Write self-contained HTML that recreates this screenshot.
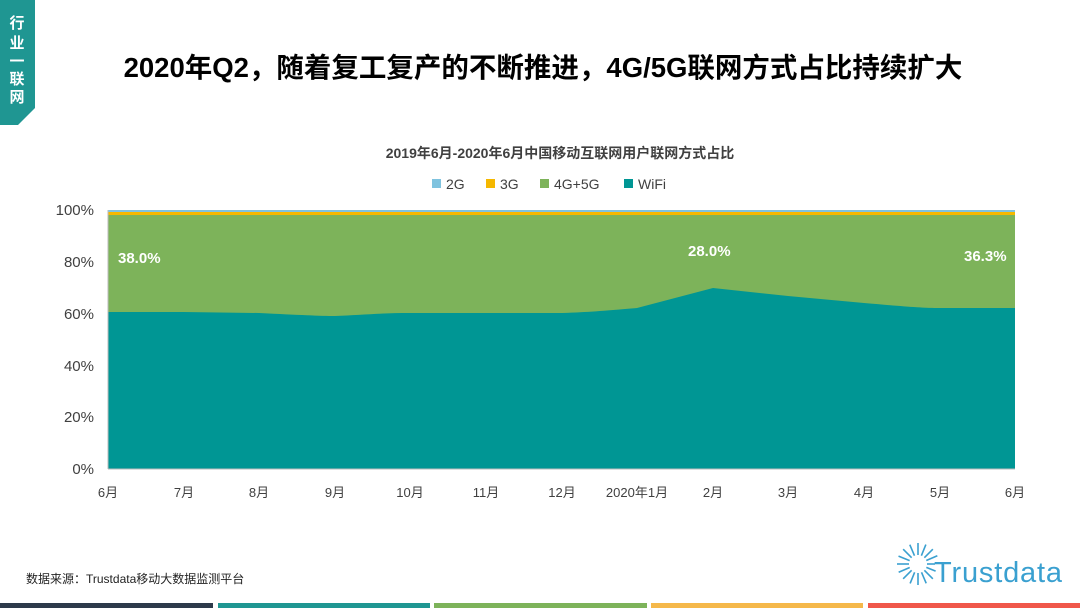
<!DOCTYPE html>
<html><head><meta charset="utf-8"><style>
body{margin:0;width:1080px;height:608px;background:#fff;overflow:hidden;position:relative;font-family:"Liberation Sans","Noto Sans CJK SC",sans-serif}
</style></head><body>
<svg width="1080" height="608" style="position:absolute;left:0;top:0">
<polygon points="0,0 35,0 35,108 18,125 0,125" fill="#1f9692"/>
<text x="17" y="28" fill="#fff" font-size="15" font-weight="bold" text-anchor="middle" font-family="Noto Sans CJK SC">行</text>
<text x="17" y="48" fill="#fff" font-size="15" font-weight="bold" text-anchor="middle" font-family="Noto Sans CJK SC">业</text>
<text x="17" y="66" fill="#fff" font-size="15" font-weight="bold" text-anchor="middle" font-family="Noto Sans CJK SC">一</text>
<text x="17" y="84" fill="#fff" font-size="15" font-weight="bold" text-anchor="middle" font-family="Noto Sans CJK SC">联</text>
<text x="17" y="102" fill="#fff" font-size="15" font-weight="bold" text-anchor="middle" font-family="Noto Sans CJK SC">网</text>
<text x="543" y="77" font-size="27.5" font-weight="bold" text-anchor="middle" font-family="Liberation Sans,Noto Sans CJK SC,sans-serif">2020年Q2，随着复工复产的不断推进，4G/5G联网方式占比持续扩大</text>
<text x="560" y="158" font-size="14" font-weight="bold" fill="#404040" text-anchor="middle" font-family="Liberation Sans,Noto Sans CJK SC,sans-serif">2019年6月-2020年6月中国移动互联网用户联网方式占比</text>
<g font-size="14" fill="#404040" font-family="Liberation Sans,sans-serif">
<rect x="432" y="179" width="9" height="9" fill="#7fc3df"/><text x="446" y="189">2G</text>
<rect x="486" y="179" width="9" height="9" fill="#f5b800"/><text x="500" y="189">3G</text>
<rect x="540" y="179" width="9" height="9" fill="#7db35a"/><text x="554" y="189">4G+5G</text>
<rect x="624" y="179" width="9" height="9" fill="#009694"/><text x="638" y="189">WiFi</text>
</g>
<rect x="108" y="210" width="907" height="259" fill="#7fc3df"/>
<rect x="108" y="212" width="907" height="257" fill="#f5b800"/>
<rect x="108" y="215" width="907" height="254" fill="#7db35a"/>
<path d="M108,312 L183.6,312 L259,313 C300,315 320,316 335,316 C360,315 380,313 410,313 L486,313 L562,313 C590,312 600,311 637,308 L713,288 L788,296 L864,303 C900,306 920,308 940,308 L1015,308 L1015,469 L108,469Z" fill="#009694"/>
<line x1="108" y1="210" x2="108" y2="469" stroke="#bbb"/>
<line x1="108" y1="469" x2="1015" y2="469" stroke="#bbb"/>
<g font-size="15" fill="#404040" text-anchor="end" font-family="Liberation Sans,sans-serif">
<text x="94" y="215">100%</text><text x="94" y="267">80%</text><text x="94" y="319">60%</text><text x="94" y="371">40%</text><text x="94" y="422">20%</text><text x="94" y="474">0%</text>
</g>
<g font-size="13" fill="#404040" text-anchor="middle" font-family="Liberation Sans,Noto Sans CJK SC,sans-serif">
<text x="108" y="497">6月</text><text x="184" y="497">7月</text><text x="259" y="497">8月</text><text x="335" y="497">9月</text><text x="410" y="497">10月</text><text x="486" y="497">11月</text><text x="562" y="497">12月</text><text x="637" y="497">2020年1月</text><text x="713" y="497">2月</text><text x="788" y="497">3月</text><text x="864" y="497">4月</text><text x="940" y="497">5月</text><text x="1015" y="497">6月</text>
</g>
<g font-size="15" font-weight="bold" fill="#fff" font-family="Liberation Sans,sans-serif">
<text x="118" y="263">38.0%</text><text x="688" y="256">28.0%</text><text x="964" y="261">36.3%</text>
</g>
<text x="26" y="583" font-size="12" fill="#222" font-family="Liberation Sans,Noto Sans CJK SC,sans-serif">数据来源：Trustdata移动大数据监测平台</text>
<g stroke="#3aa0d0" stroke-width="1.6" transform="translate(918,564)">
<line x1="0" y1="-9" x2="0" y2="-21"/><line x1="0" y1="-9" x2="0" y2="-21" transform="rotate(22)"/><line x1="0" y1="-9" x2="0" y2="-21" transform="rotate(45)"/><line x1="0" y1="-9" x2="0" y2="-21" transform="rotate(67)"/><line x1="0" y1="-9" x2="0" y2="-19" transform="rotate(112)"/><line x1="0" y1="-9" x2="0" y2="-21" transform="rotate(135)"/><line x1="0" y1="-9" x2="0" y2="-21" transform="rotate(157)"/><line x1="0" y1="-9" x2="0" y2="-21" transform="rotate(180)"/><line x1="0" y1="-9" x2="0" y2="-21" transform="rotate(202)"/><line x1="0" y1="-9" x2="0" y2="-21" transform="rotate(225)"/><line x1="0" y1="-9" x2="0" y2="-21" transform="rotate(247)"/><line x1="0" y1="-9" x2="0" y2="-21" transform="rotate(270)"/><line x1="0" y1="-9" x2="0" y2="-21" transform="rotate(292)"/><line x1="0" y1="-9" x2="0" y2="-21" transform="rotate(315)"/><line x1="0" y1="-9" x2="0" y2="-21" transform="rotate(337)"/><line x1="0" y1="-9" x2="0" y2="-17" transform="rotate(90)"/>
</g>
<text x="934" y="582" font-size="29" fill="#3aa0d0" textLength="128" font-family="Liberation Sans,sans-serif">Trustdata</text>
<rect x="0" y="603" width="213" height="5" fill="#2d3a4a"/>
<rect x="218" y="603" width="212" height="5" fill="#1f9692"/>
<rect x="434" y="603" width="213" height="5" fill="#7db35a"/>
<rect x="651" y="603" width="212" height="5" fill="#f5b84a"/>
<rect x="868" y="603" width="212" height="5" fill="#f0574a"/>
</svg>
</body></html>
